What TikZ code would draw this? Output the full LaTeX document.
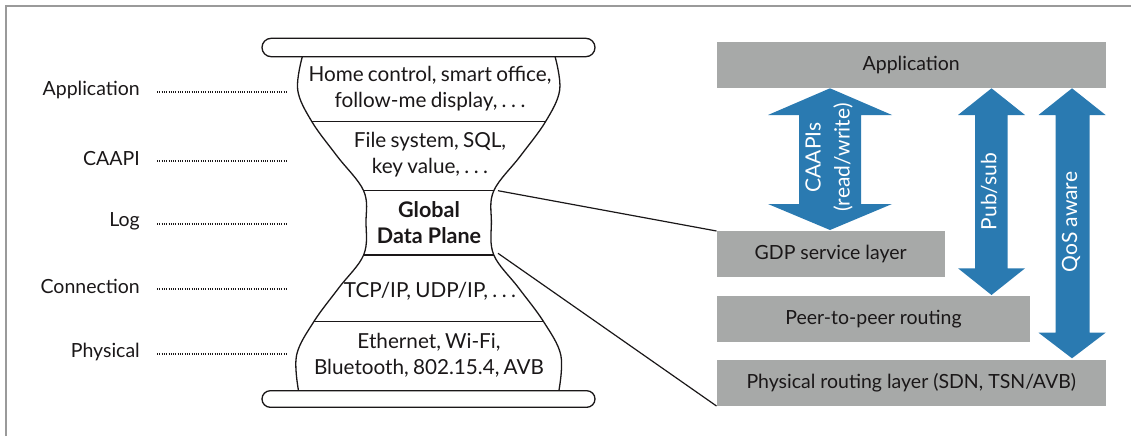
\documentclass[tikz,border=0pt]{standalone}
\usepackage{fontspec}
\setmainfont{Lato}
\usetikzlibrary{calc}
\definecolor{bargray}{HTML}{A7A9A8}
\definecolor{arrowblue}{HTML}{2A7AB1}
\definecolor{txt}{HTML}{1A1718}
\definecolor{framegray}{HTML}{9A9A9A}
\newcommand{\dotsep}{.\hspace{0.22em}.\hspace{0.22em}.}
\newcommand{\hgfont}{\fontsize{20.7}{25.7}\selectfont\spaceskip=4.2pt plus 2pt minus 1pt\relax}
\newcommand{\hgbold}{\fontsize{21.5}{25.7}\selectfont\bfseries}
\begin{document}
\begin{tikzpicture}[x=1pt,y=-1pt,
  every node/.style={text=txt, font=\fontsize{19.5}{25.7}\selectfont, inner sep=0pt},
  bar/.style={fill=bargray, anchor=north west, minimum height=45.6},
  hgline/.style={draw=txt, line width=1.3pt},
  leftlab/.style={anchor=east},
  dotline/.style={draw=txt, line width=1.1pt, dash pattern=on 1pt off 1.3pt},
  hgtext/.style={align=center, font=\hgfont},
  rottext/.style={text=white, rotate=90, font=\fontsize{21}{25.7}\selectfont},
  blue/.style={fill=arrowblue},
  conn/.style={draw=txt, line width=1.2pt}]
\useasboundingbox (0,0) rectangle (1131,436);
\draw[framegray, line width=2pt] (6,436) -- (6,6) -- (1131,6);

% hourglass caps
\draw[hgline, rounded corners=9.2pt] (262,38.3) rectangle (595,56.7);
\draw[hgline, rounded corners=8.3pt] (262,390.7) rectangle (595,407.3);

% hourglass sides
\draw[hgline] plot[smooth, tension=0.6] coordinates {(302.3,56.7) (297.7,90) (311.9,121.7) (337,156) (363.6,190.7) (366,222) (363.6,255) (338.7,288) (313.8,321.7) (296.6,355) (298.5,390.7)};
\draw[hgline] plot[smooth, tension=0.6] coordinates {(555.1,56.7) (559.7,90) (545.5,121.7) (520.4,156) (493.8,190.7) (491.4,222) (493.8,255) (518.7,288) (543.6,321.7) (560.8,355) (558.9,390.7)};
% dividers
\draw[hgline] (311.9,121.7) -- (545.5,121.7);
\draw[hgline] (363.6,190.7) -- (493.8,190.7);
\draw[hgline] (363.6,255) -- (493.8,255);
\draw[hgline] (313.8,321.7) -- (543.6,321.7);

% hourglass texts
\node[hgtext] (happ) at (430,89) {Home control, smart office,\\follow-me display, \dotsep};
\node[hgtext] (hcaapi) at (430,155) {File system, SQL,\\key value, \dotsep};
\node[hgtext, font=\hgbold] (hlog) at (429,222.3) {Global\\Data Plane};
\node[hgtext] (hconn) at (430,291) {TCP/IP, UDP/IP, \dotsep};
\node[hgtext] (hphys) at (429,355.5) {Ethernet, Wi-Fi,\\Bluetooth, 802.15.4, AVB};

% left labels
\node[leftlab] (lapp) at (140,90) {Application};
\node[leftlab] (lcaapi) at (140,159) {CAAPI};
\node[leftlab] (llog) at (140,221.7) {Log};
\node[leftlab] (lconn) at (140,286.7) {Connection};
\node[leftlab] (lphys) at (140,351.7) {Physical};
\foreach \n/\yy in {lapp/92, lcaapi/161, llog/224, lconn/289, lphys/354}{
  \coordinate (\n s) at (157,\yy);
  \coordinate (\n e) at (287,\yy);
  \draw[dotline] (\n s) -- (\n e);
}

% right bars
\node[bar, minimum width=389.1] (app) at (716.5,41.7) {Application};
\node[bar, minimum width=227.9] (gdp) at (716.5,231) {GDP service layer};
\node[bar, minimum width=313.5] (p2p) at (716.5,296) {Peer-to-peer routing};
\node[bar, minimum width=389.1] (phys) at (716.5,360) {Physical routing layer (SDN, TSN/AVB)};

% block arrows
\fill[blue] (830,88.3) -- (892,115) -- (861,115) -- (861,204) -- (892,204) -- (830,230) -- (768,204) -- (799,204) -- (799,115) -- (768,115) -- cycle;
\fill[blue] (991.5,88.3) -- (1025,115) -- (1007.5,115) -- (1007.5,268.3) -- (1025,268.3) -- (991.5,295) -- (958,268.3) -- (975,268.3) -- (975,115) -- (958,115) -- cycle;
\fill[blue] (1072,88.3) -- (1105.6,115) -- (1089.5,115) -- (1089.5,332.7) -- (1105.6,332.7) -- (1072,358.3) -- (1038.5,332.7) -- (1055.5,332.7) -- (1055.5,115) -- (1038.5,115) -- cycle;
\node[rottext] (tcaapi) at (813,157.5) {CAAPIs};
\node[rottext] (trw) at (843,157.5) {(read/write)};
\node[rottext] (tpub) at (989,191.5) {Pub/sub};
\node[rottext] (tqos) at (1071,222) {QoS aware};

% connectors
\coordinate (gtop) at (498,190.7);
\coordinate (gbot) at (498,253.3);
\draw[conn] (gtop) -- (gdp.north west);
\draw[conn] (gbot) -- (phys.south west);
\end{tikzpicture}
\end{document}
